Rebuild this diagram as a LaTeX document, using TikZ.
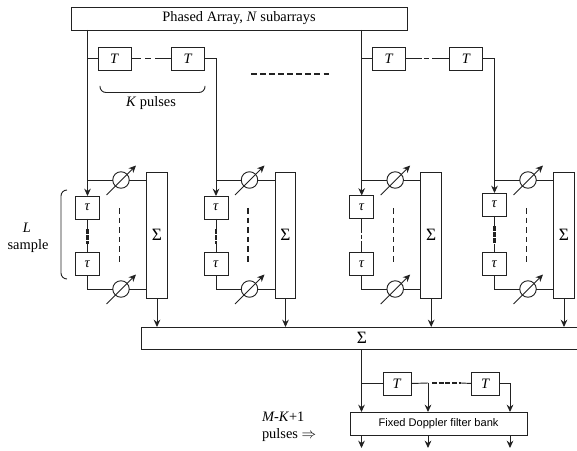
\documentclass[tikz,border=0pt]{standalone}
\usepackage{fontspec}
\setmainfont{Liberation Serif}
\newfontfamily\bankfont{Liberation Sans}
\usetikzlibrary{arrows.meta,positioning}
\definecolor{LineMain}{HTML}{222222}
\newcommand{\bigsum}{{\fontsize{13}{13}\selectfont Σ}}
\tikzset{>={Stealth[length=5.5pt,width=5pt]},
 every node/.style={font=\fontsize{10.8}{12}\selectfont,inner sep=0pt,outer sep=0pt},
 wire/.style={LineMain,line width=.7pt},
 block/.style={draw=LineMain,line width=.7pt,fill=white,align=center},
 delayT/.style={block,minimum width=24.75pt,minimum height=17.25pt},
 delaytau/.style={block,minimum width=18pt,minimum height=17.25pt},
 sumbar/.style={block,minimum width=15.4pt,minimum height=94.5pt},
 phase/.style={circle,draw=LineMain,line width=.7pt,fill=white,minimum size=12.4pt}}
\begin{document}
\begin{tikzpicture}[x=.75pt,y=.75pt]
\useasboundingbox (0,0) rectangle (577,450);
\clip (0,0) rectangle (577,450);
\node[block,minimum width=252pt,minimum height=17.25pt] (array) at (239,431.5)
 {Phased Array, \textit{N} subarrays};
\node[block,minimum width=331.5pt,minimum height=16.5pt] (total) at (362,112) {\bigsum};
% pulse delays on top
\node[delayT] (ta1) at (114.5,391.5) {\textit{T}};
\node[delayT] (ta2) at (188,391.5) {\textit{T}};
\node[delayT] (tc1) at (389,391.5) {\textit{T}};
\node[delayT] (tc2) at (466.3,391.5) {\textit{T}};
\draw[wire,dash pattern=on 7.5pt off 3pt on 4.5pt off 3pt on 20pt] (ta1.east)--(ta2.west);
\draw[wire,dash pattern=on 12pt off 1.5pt on 4pt off 2.5pt on 20pt] (tc1.east)--(tc2.west);
\draw[rounded corners=4.5pt,wire] (100,364)--(100,357.5)--(205,357.5)--(205,364);
\node (kpulses) at (151,346.5) {\textit{K} pulses};
\draw[LineMain,line width=1.2pt,dash pattern=on 4.2pt off 2.6pt] (251,376)--(329,376);
% one receive channel per column
\foreach \n/\x/\ya/\lw/\mw in {a/87.5/242.5/1.8/.7,b/216/242.5/1.8/1.3,
 c/361.7/243/.7/.7,d/494.5/245.5/1.8/.7}{
 \node[delaytau] (up\n) at (\x,\ya) {\textit{τ}};
 \node[delaytau] (lo\n) at (\x,186) {\textit{τ}};
 \node[phase] (pu\n) at (\x+33.5,270) {};
 \node[phase] (pl\n) at (\x+33.5,161) {};
 \node[sumbar] (sum\n) at (\x+69.5,215) {\bigsum};
 \draw[wire] (up\n.south)--++(0,-10);
 \draw[wire] (lo\n.north)--++(0,9);
 \draw[LineMain,line width=\lw pt,dash pattern=on 3.4pt off 1.2pt,shorten >=6.75pt,shorten <=7.5pt]
  (up\n.south)--(lo\n.north);
 \draw[LineMain,line width=\mw pt,dash pattern=on 4.2pt off 3pt]
  (\x+32,242)--(\x+32,185);
 \draw[wire] (\x,270)--(pu\n.west);
 \draw[wire] (pu\n.east)--(pu\n.east-|sum\n.west);
 \draw[wire] (lo\n.south)|-(pl\n.west);
 \draw[wire] (pl\n.east)--(pl\n.east-|sum\n.west);
 \draw[wire,->] ([shift={(-14.5,-15)}]pu\n.center)--([shift={(15,14.5)}]pu\n.center);
 \draw[wire,->] ([shift={(-14.5,-15)}]pl\n.center)--([shift={(15,14.5)}]pl\n.center);
 \draw[wire,->] (sum\n.south)--(sum\n.south|-total.north);
}
% feeds into the columns
\draw[wire,->] (array.south-|upa.north)--(upa.north);
\draw[wire,->] (array.south-|upc.north)--(upc.north);
\draw[wire,->] (ta2.east)-|(upb.north);
\draw[wire,->] (tc2.east)-|(upd.north);
\draw[wire] (ta1.west)--(ta1.west-|upa.north);
\draw[wire] (tc1.west)--(tc1.west-|upc.north);
% bracket for the samples
\draw[rounded corners=4.5pt,wire] (67,260)--(61,260)--(61,171)--(67,171);
\node (lname) at (27,222) {\textit{L}};
\node (lsample) at (28,204) {sample};
% Doppler part
\node[delayT,minimum width=21pt] (d1) at (397,66.5) {\textit{T}};
\node[delayT,minimum width=20.5pt] (d2) at (485.5,66.5) {\textit{T}};
\node[block,minimum width=132.75pt,minimum height=17.25pt] (bank) at (438.5,26.5)
 {\raisebox{-3.6pt}{\bankfont\fontsize{8.3}{9}\selectfont Fixed Doppler filter bank}};
\coordinate (tap) at (428,67);
\coordinate (dashend) at (461,67);
\coordinate (out1) at (361.5,2);
\coordinate (out2) at (428,2);
\coordinate (out3) at (510,2);
\draw[wire] (d1.east)--(tap);
\draw[wire] (dashend)--(d2.west);
\draw[LineMain,line width=1.7pt,dash pattern=on 3.8pt off 1.2pt,shorten <=3pt] (tap)--(dashend);
\draw[wire,->] (total.south-|out1)--(out1|-bank.north);
\draw[wire] (d1.west)--(d1.west-|out1);
\draw[wire,->] (tap)--(tap|-bank.north);
\draw[wire,->] (d2.east)-|(out3|-bank.north);
\foreach \k in {1,2,3}\draw[wire,->] (bank.south-|out\k)--(out\k);
\node[anchor=west] (mk) at (262,33) {\textit{M-K}+1};
\node[anchor=west] (pul) at (262,15) {pulses $\Rightarrow$};
\end{tikzpicture}
\end{document}
